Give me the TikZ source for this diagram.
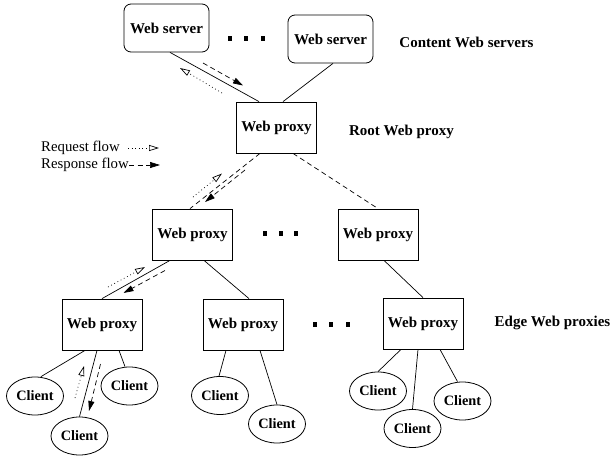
\documentclass[tikz,border=0pt]{standalone}
\usepackage{fontspec}
\setmainfont{Liberation Serif}
\usetikzlibrary{arrows.meta,shapes.geometric}
\begin{document}
\begin{tikzpicture}[x=1pt,y=-1pt,
  lbl/.style={font=\fontsize{15}{17}\selectfont\bfseries},
  server/.style={draw,line width=0.8pt,rounded corners=7pt,minimum width=85pt,minimum height=48pt,inner sep=0pt,lbl},
  proxy/.style={draw,line width=0.8pt,minimum width=80pt,minimum height=51pt,inner sep=0pt,lbl},
  client/.style={draw,ellipse,line width=0.8pt,minimum width=57pt,minimum height=38pt,inner sep=0pt,font=\fontsize{14.3}{16}\selectfont\bfseries},
  link/.style={line width=0.7pt},
  dlink/.style={line width=0.7pt,dash pattern=on 5pt off 3.5pt},
  resp/.style={line width=0.7pt,dash pattern=on 5pt off 3.5pt,-{Triangle[length=10pt,width=6pt]}},
  req/.style={line width=0.7pt,dash pattern=on 0.8pt off 2.8pt,-{Triangle[open,length=10pt,width=6pt,line width=0.7pt]}},
  legtext/.style={anchor=west,inner sep=0pt,font=\fontsize{14.8}{16}\selectfont},
  gap/.style={fill=black,minimum width=4pt,minimum height=5pt,inner sep=0pt}
]
\useasboundingbox (0,0) rectangle (611,458);

% servers, proxies and clients
\node[server] (ws1) at (166.5,28) {Web server};
\node[server] (ws2) at (330.5,39) {Web server};
\node[proxy] (root) at (276.5,127.5) {Web proxy};
\node[proxy] (mid1) at (192.5,234.5) {Web proxy};
\node[proxy] (mid2) at (378,234.5) {Web proxy};
\node[proxy] (edge1) at (102,324.5) {Web proxy};
\node[proxy] (edge2) at (243,324.5) {Web proxy};
\node[proxy] (edge3) at (423,323.5) {Web proxy};
\node[client] (c1) at (35,396) {Client};
\node[client] (c2) at (79.5,436) {Client};
\node[client] (c3) at (129.5,386) {Client};
\node[client] (c4) at (220,395.5) {Client};
\node[client] (c5) at (277,424) {Client};
\node[client] (c6) at (378,391) {Client};
\node[client] (c7) at (412.5,428.5) {Client};
\node[client] (c8) at (462.5,401) {Client};

% level captions
\node[lbl] (capservers) at (466.5,42) {Content Web servers};
\node[lbl] (caproot) at (401.5,131.5) {Root Web proxy};
\node[lbl] (capedge) at (552.5,323) {Edge Web proxies};

% ellipsis marks between siblings
\foreach \x/\n in {230/a,246/b,263/c} \node[gap] (top\n) at (\x,38.5) {};
\foreach \x/\n in {264.5/a,280.5/b,295.5/c} \node[gap] (mid\n) at (\x,233) {};
\foreach \x/\n in {315/a,331/b,348/c} \node[gap] (bot\n) at (\x,324.5) {};

% tree links
\draw[link] ([xshift=3.5pt]ws1.south) -- ([xshift=-17.5pt]root.north);
\draw[link] ([xshift=2.5pt]ws2.south) -- ([xshift=6.5pt]root.north);
\draw[dlink] ([xshift=-16.5pt]root.south) -- ([xshift=-2.5pt]mid1.north);
\draw[dlink] ([xshift=16.5pt]root.south) -- (mid2.north);
\draw[link] ([xshift=-22.5pt]mid1.south) -- (edge1.north);
\draw[link] ([xshift=11.5pt]mid1.south) -- ([xshift=6pt]edge2.north);
\draw[link] ([xshift=6pt]mid2.south) -- (edge3.north);
\draw[link] ([xshift=-17pt]edge1.south) -- ([xshift=6pt]c1.north);
\draw[link] ([xshift=-5pt]edge1.south) -- (c2.north);
\draw[link] ([xshift=17pt]edge1.south) -- ([xshift=-4.5pt]c3.north);
\draw[link] ([xshift=-17pt]edge2.south) -- ([xshift=-1pt]c4.north);
\draw[link] ([xshift=17pt]edge2.south) -- (c5.north);
\draw[link] ([xshift=-22pt]edge3.south) -- (c6.north);
\draw[link] ([xshift=-5pt]edge3.south) -- (c7.north);
\draw[link] ([xshift=17pt]edge3.south) -- ([xshift=-5pt]c8.north);

% request / response flow along one path
\coordinate (r1a) at (203,63);   \coordinate (r1b) at (243,85.5);
\coordinate (q1a) at (222,93);   \coordinate (q1b) at (180,68);
\coordinate (r2a) at (245,170);  \coordinate (r2b) at (205,202);
\coordinate (q2a) at (193,197);  \coordinate (q2b) at (222,173.5);
\coordinate (q3a) at (108,287);  \coordinate (q3b) at (145,267);
\coordinate (r3a) at (165,270.5);\coordinate (r3b) at (123.5,293);
\coordinate (q4a) at (75,398);   \coordinate (q4b) at (84,366);
\coordinate (r4a) at (100.5,364);\coordinate (r4b) at (89,411);
\draw[resp] (r1a) -- (r1b);
\draw[req] (q1a) -- (q1b);
\draw[resp] (r2a) -- (r2b);
\draw[req] (q2a) -- (q2b);
\draw[req] (q3a) -- (q3b);
\draw[resp] (r3a) -- (r3b);
\draw[req] (q4a) -- (q4b);
\draw[resp] (r4a) -- (r4b);

% legend
\node[legtext] (legreq) at (41,148) {Request flow};
\node[legtext] (legresp) at (41,165) {Response flow};
\coordinate (lqa) at (128,148); \coordinate (lqb) at (159,148);
\coordinate (lra) at (129,165); \coordinate (lrb) at (160,165);
\draw[req] (lqa) -- (lqb);
\draw[resp] (lra) -- (lrb);
\end{tikzpicture}
\end{document}
